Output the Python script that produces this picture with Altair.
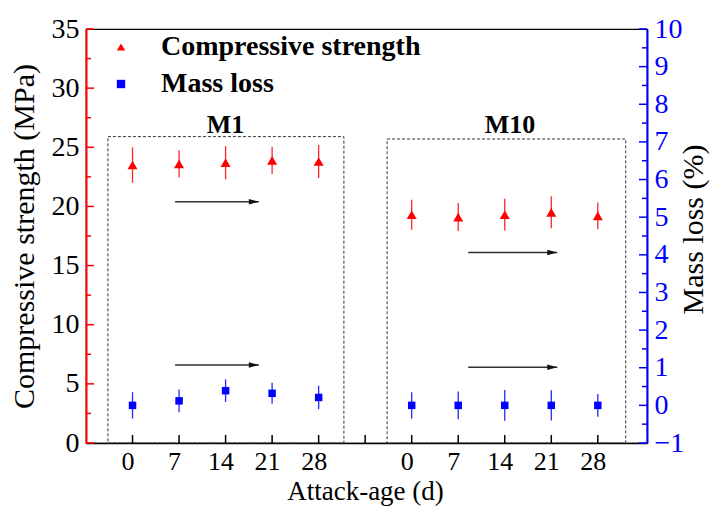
import altair as alt
import pandas as pd

# ---------------- data ----------------
days = [0, 7, 14, 21, 28]
groups = ["M1", "M10"]
group_shift = [0, 42]          # position shift of each group along the broken x axis

strength_M1 = [23.5, 23.6, 23.7, 23.9, 23.8]
strength_M1_err = [1.5, 1.15, 1.4, 1.15, 1.4]
strength_M10 = [19.3, 19.1, 19.3, 19.5, 19.2]
strength_M10_err = [1.27, 1.18, 1.34, 1.35, 1.13]

mass_M1 = [0.0, 0.12, 0.39, 0.32, 0.21]
mass_M1_err = [0.35, 0.3, 0.3, 0.28, 0.31]
mass_M10 = [0.0, 0.0, 0.0, 0.0, 0.0]
mass_M10_err = [0.35, 0.37, 0.41, 0.4, 0.3]

series_names = ["Compressive strength", "Mass loss"]

# annotations (in data units)
box_x_start = [-3.7, 38.3]
box_x_end = [31.8, 74.2]
box_top = [25.9, 25.7]
group_label_x = [14.0, 56.8]
group_label_y = [26.2, 26.2]
arrow_x_start = [6.4, 6.4, 50.5, 50.5]
arrow_x_end = [19.0, 19.0, 63.9, 63.9]
arrow_y = [20.4, 6.6, 16.1, 6.4]

x_tick_values = [0, 7, 14, 21, 28, 35, 42, 49, 56, 63, 70]
left_major = [0, 5, 10, 15, 20, 25, 30, 35]
left_minor = [2.5, 7.5, 12.5, 17.5, 22.5, 27.5, 32.5]
right_major = [-1, 0, 1, 2, 3, 4, 5, 6, 7, 8, 9, 10]
right_minor = [-0.5, 0.5, 1.5, 2.5, 3.5, 4.5, 5.5, 6.5, 7.5, 8.5, 9.5]

# ---------------- tables ----------------
def build(vals_by_group, errs_by_group, name):
    rows = []
    for g, shift, vals, errs in zip(groups, group_shift, vals_by_group, errs_by_group):
        for d, v, e in zip(days, vals, errs):
            rows.append({"group": g, "pos": d + shift, "val": v,
                         "lo": v - e, "hi": v + e, "series": name})
    return pd.DataFrame(rows)

df_s = build([strength_M1, strength_M10], [strength_M1_err, strength_M10_err], series_names[0])
df_m = build([mass_M1, mass_M10], [mass_M1_err, mass_M10_err], series_names[1])
df_box = pd.DataFrame({"x0": box_x_start, "x1": box_x_end, "y0": [0, 0], "y1": box_top})
df_lab = pd.DataFrame({"x": group_label_x, "y": group_label_y, "t": groups})
df_arr = pd.DataFrame({"x0": arrow_x_start, "x1": arrow_x_end, "y": arrow_y})
df_xt = pd.DataFrame({"t": x_tick_values})
df_lmaj = pd.DataFrame({"v": left_major})
df_lmin = pd.DataFrame({"v": left_minor})
df_rmaj = pd.DataFrame({"v": right_major})
df_rmin = pd.DataFrame({"v": right_minor})

# ---------------- style ----------------
W, H = 561, 414
SERIF = "Liberation Serif, Times New Roman, DejaVu Serif, serif"
RED = "#ff0000"
BLUE = "#0000ff"

xscale = alt.Scale(domain=[-7, 77.4], nice=False, zero=False)
xaxis = alt.Axis(values=x_tick_values,
                 labelExpr="datum.value == 35 ? '' : (datum.value > 35 ? datum.value - 42 : datum.value)",
                 title="Attack-age (d)", ticks=False, grid=False,
                 domainColor="black", domainWidth=1.5,
                 labelFont=SERIF, labelFontSize=26, labelColor="black",
                 labelPadding=5, labelOffset=-5,
                 titleFont=SERIF, titleFontSize=27, titleFontWeight="normal", titleColor="black",
                 titleX=279, titleY=56, titleAlign="center", titleBaseline="alphabetic")
yL = alt.Scale(domain=[0, 35], nice=False, zero=False)
yLaxis = alt.Axis(values=left_major, orient="left", ticks=False, grid=False,
                  domainColor=RED, domainWidth=2,
                  labelFont=SERIF, labelFontSize=28, labelColor="black", labelPadding=7,
                  title="Compressive strength (MPa)",
                  titleFont=SERIF, titleFontSize=30, titleFontWeight="normal", titleColor="black",
                  titleAngle=270, titleX=-53, titleY=207, titleAlign="center",
                  titleBaseline="alphabetic", titleLimit=600)
yR = alt.Scale(domain=[-1, 10], nice=False, zero=False)
yRaxis = alt.Axis(values=right_major, orient="right", ticks=False, grid=False,
                  domainColor=BLUE, domainWidth=2,
                  labelFont=SERIF, labelFontSize=28, labelColor=BLUE, labelPadding=7,
                  title="Mass loss (%)",
                  titleFont=SERIF, titleFontSize=30, titleFontWeight="normal", titleColor="black",
                  titleAngle=270, titleX=55, titleY=200, titleAlign="center",
                  titleBaseline="alphabetic", titleLimit=600)

cscale = alt.Scale(domain=series_names, range=[RED, BLUE])
sscale = alt.Scale(domain=series_names, range=["triangle-up", "square"])
legend = alt.Legend(orient="none", legendX=21, legendY=4, title=None,
                    labelFont=SERIF, labelFontWeight="bold", labelFontSize=28,
                    labelColor="black", symbolSize=70, labelOffset=26, labelLimit=500,
                    rowPadding=9, padding=0, symbolStrokeWidth=0)

X = lambda f: alt.X(f, type="quantitative", scale=xscale, axis=xaxis)
YL = lambda f: alt.Y(f, type="quantitative", scale=yL, axis=yLaxis)
YR = lambda f: alt.Y(f, type="quantitative", scale=yR, axis=yRaxis)

# ---------------- left-scale layers ----------------
boxes = alt.Chart(df_box).mark_rect(filled=False, stroke="#333333", strokeWidth=1,
                                    strokeDash=[3, 2]).encode(
    x=X("x0"), x2="x1", y=YL("y0"), y2="y1")
arrow_line = alt.Chart(df_arr).mark_rule(color="#333333", strokeWidth=1.5).encode(
    x=X("x0"), x2="x1", y=YL("y"))
arrow_head = alt.Chart(df_arr).mark_point(shape="M-2,-0.56L0,0L-2,0.56Z", filled=True,
                                          size=100, color="#111111", opacity=1).encode(
    x=X("x1"), y=YL("y"))
labels = alt.Chart(df_lab).mark_text(font=SERIF, fontWeight="bold", fontSize=26,
                                     align="center", baseline="alphabetic",
                                     color="black").encode(
    x=X("x"), y=YL("y"), text="t:N")
err_s = alt.Chart(df_s).mark_rule(color=RED, strokeWidth=1.3, opacity=0.85).encode(
    x=X("pos"), y=YL("lo"), y2="hi")
pts_s = alt.Chart(df_s).mark_point(filled=True, size=100, opacity=1).encode(
    x=X("pos"), y=YL("val"),
    color=alt.Color("series:N", scale=cscale, legend=legend),
    shape=alt.Shape("series:N", scale=sscale, legend=legend))
tick_lmaj = alt.Chart(df_lmaj).mark_rule(color=RED, strokeWidth=1.5).encode(
    y=YL("v"), x=alt.value(0), x2=alt.value(8))
tick_lmin = alt.Chart(df_lmin).mark_rule(color=RED, strokeWidth=1.5).encode(
    y=YL("v"), x=alt.value(0), x2=alt.value(5))
tick_b = alt.Chart(df_xt).mark_rule(color="black", strokeWidth=1.5).encode(
    x=X("t"), y=alt.value(H), y2=alt.value(H - 8))

left = alt.layer(boxes, arrow_line, arrow_head, labels, err_s, pts_s,
                 tick_lmaj, tick_lmin, tick_b)

# ---------------- right-scale layers ----------------
err_m = alt.Chart(df_m).mark_rule(color=BLUE, strokeWidth=1.3, opacity=0.85).encode(
    x=X("pos"), y=YR("lo"), y2="hi")
pts_m = alt.Chart(df_m).mark_point(filled=True, size=56, opacity=1).encode(
    x=X("pos"), y=YR("val"),
    color=alt.Color("series:N", scale=cscale, legend=legend),
    shape=alt.Shape("series:N", scale=sscale, legend=legend))
tick_rmaj = alt.Chart(df_rmaj).mark_rule(color=BLUE, strokeWidth=1.5).encode(
    y=YR("v"), x=alt.value(W), x2=alt.value(W - 8))
tick_rmin = alt.Chart(df_rmin).mark_rule(color=BLUE, strokeWidth=1.5).encode(
    y=YR("v"), x=alt.value(W), x2=alt.value(W - 5))

right = alt.layer(err_m, pts_m, tick_rmaj, tick_rmin)

chart = alt.layer(left, right).resolve_scale(y="independent").properties(
    width=W, height=H,
    padding={"left": 86, "top": 29, "right": 63, "bottom": 63},
    autosize=alt.AutoSizeParams(type="none"),
    background="white",
).configure_view(stroke="black", strokeWidth=1.2)

chart.save("out.html", embed_options={"renderer": "svg", "actions": False})
